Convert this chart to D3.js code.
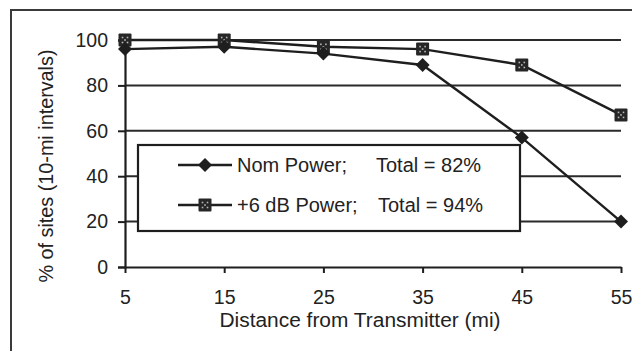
<!DOCTYPE html>
<html>
<head>
<meta charset="utf-8">
<script src="https://cdn.jsdelivr.net/npm/d3@7"></script>
<style>
  html, body { margin: 0; padding: 0; background: #fff; }
  svg { display: block; font-family: "Liberation Sans", Arial, sans-serif; }
</style>
</head>
<body>
<svg id="chart" width="636" height="351"></svg>
<script>
// Distances (mi) at the centre of each 10-mile interval
const distances = [5, 15, 25, 35, 45, 55];
// Percentage of sites served in each interval
const nomPower = [96, 97, 94, 89, 57, 20];
const plus6Power = [100, 100, 97, 96, 89, 67];
const yTicks = [0, 20, 40, 60, 80, 100];
const seriesNames = ["Nom Power;", "+6 dB Power;"];
const seriesTotals = ["Total = 82%", "Total = 94%"];

const ink = "#1e1e1e";
const svg = d3.select("#chart");

const x = d3.scaleLinear().domain([5, 55]).range([125, 621]);
const y = d3.scaleLinear().domain([0, 100]).range([267, 40]);

// outer frame (left and top edges)
svg.append("path")
  .attr("d", "M11,351 L11,10 L632,10")
  .attr("fill", "none").attr("stroke", "#3a3a3a").attr("stroke-width", 2);

// horizontal gridlines
svg.append("g").selectAll("line")
  .data(yTicks.filter(d => d > 0))
  .join("line")
  .attr("x1", x(5)).attr("x2", x(55))
  .attr("y1", d => y(d)).attr("y2", d => y(d))
  .attr("stroke", "#2a2a2a").attr("stroke-width", 2);

// y axis
const yAxis = svg.append("g")
  .attr("transform", `translate(${x(5)},0)`)
  .call(d3.axisLeft(y).tickValues(yTicks).tickSize(7).tickPadding(10));
yAxis.select(".domain").attr("stroke", ink).attr("stroke-width", 2.2);
yAxis.selectAll(".tick line").attr("stroke", ink).attr("stroke-width", 2);
yAxis.selectAll(".tick text")
  .attr("fill", "#222").attr("font-size", 19.5)
  .attr("font-family", "'Liberation Sans', Arial, sans-serif");

// x axis
const xAxis = svg.append("g")
  .attr("transform", `translate(0,${y(0)})`)
  .call(d3.axisBottom(x).tickValues(distances).tickSize(6).tickSizeOuter(0).tickPadding(17));
xAxis.select(".domain").attr("stroke", ink).attr("stroke-width", 2.2);
xAxis.selectAll(".tick line").attr("stroke", ink).attr("stroke-width", 2);
xAxis.selectAll(".tick text")
  .attr("fill", "#222").attr("font-size", 19.5)
  .attr("font-family", "'Liberation Sans', Arial, sans-serif");

// axis titles
svg.append("text")
  .attr("x", 360).attr("y", 327)
  .attr("text-anchor", "middle")
  .attr("font-size", 20).attr("fill", "#222")
  .attr("textLength", 281).attr("lengthAdjust", "spacingAndGlyphs")
  .text("Distance from Transmitter (mi)");

svg.append("text")
  .attr("transform", "translate(53,166) rotate(-90)")
  .attr("text-anchor", "middle")
  .attr("font-size", 19.5).attr("fill", "#222")
  .attr("textLength", 233).attr("lengthAdjust", "spacingAndGlyphs")
  .text("% of sites (10-mi intervals)");

// marker helpers
function diamond(g, cx, cy) {
  g.append("path")
    .attr("d", `M${cx},${cy - 7} L${cx + 7},${cy} L${cx},${cy + 7} L${cx - 7},${cy} Z`)
    .attr("fill", ink);
}
function square(g, cx, cy) {
  g.append("rect")
    .attr("x", cx - 6.5).attr("y", cy - 6.5)
    .attr("width", 13).attr("height", 13).attr("rx", 1)
    .attr("fill", "#262626");
  [[-2.5, -2.5], [2.5, -2.5], [-2.5, 2.5], [2.5, 2.5], [0, 0]].forEach(([dx, dy]) => {
    g.append("rect")
      .attr("x", cx + dx - 0.8).attr("y", cy + dy - 0.8)
      .attr("width", 1.6).attr("height", 1.6)
      .attr("fill", "#b8b8b8");
  });
}

const line = d3.line().x(d => x(d[0])).y(d => y(d[1]));

// +6 dB series
const g6 = svg.append("g");
g6.append("path")
  .attr("d", line(distances.map((d, i) => [d, plus6Power[i]])))
  .attr("fill", "none").attr("stroke", ink).attr("stroke-width", 2.4);
distances.forEach((d, i) => square(g6, x(d), y(plus6Power[i])));

// nominal power series
const gn = svg.append("g");
gn.append("path")
  .attr("d", line(distances.map((d, i) => [d, nomPower[i]])))
  .attr("fill", "none").attr("stroke", ink).attr("stroke-width", 2.4);
distances.forEach((d, i) => diamond(gn, x(d), y(nomPower[i])));

// legend box
const leg = svg.append("g");
leg.append("rect")
  .attr("x", 138).attr("y", 145).attr("width", 382).attr("height", 86)
  .attr("fill", "#fff").attr("stroke", ink).attr("stroke-width", 2.2);

const rows = [165, 205];
const textX = 237;
const totalX = [376, 378];
rows.forEach((ry, i) => {
  leg.append("line")
    .attr("x1", 178).attr("x2", 232).attr("y1", ry).attr("y2", ry)
    .attr("stroke", ink).attr("stroke-width", 2.4);
  if (i === 0) diamond(leg, 205, ry); else square(leg, 205, ry);
  leg.append("text")
    .attr("x", textX).attr("y", ry + 7)
    .attr("font-size", 20).attr("fill", "#222")
    .text(seriesNames[i]);
  leg.append("text")
    .attr("x", totalX[i]).attr("y", ry + 7)
    .attr("font-size", 20).attr("fill", "#222")
    .text(seriesTotals[i]);
});
</script>
</body>
</html>
